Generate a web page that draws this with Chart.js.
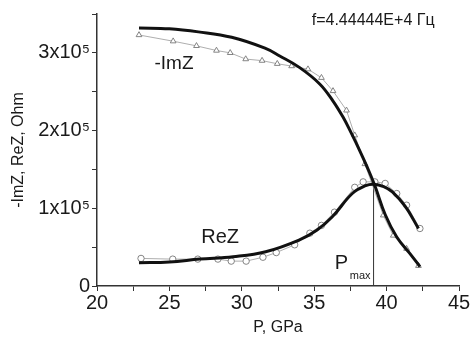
<!DOCTYPE html>
<html>
<head>
<meta charset="utf-8">
<script src="https://cdn.jsdelivr.net/npm/chart.js@4"></script>
<style>
html,body{margin:0;padding:0;background:#fff;}
#wrap{width:474px;height:338px;position:relative;}
</style>
</head>
<body>
<div id="wrap"><canvas id="c" width="474" height="338"></canvas></div>
<script>
// -ImZ fit curve
const imzFitP = [22.9, 25.0, 27.0, 29.3, 31.6, 32.62, 34.0, 35.38, 36.3, 37.0, 37.58, 38.15, 38.66, 39.19, 39.9, 40.7, 41.6, 42.3];
const imzFit  = [332000, 331000, 327000, 320000, 306000, 296000, 281000, 260000, 238000, 217000, 196000, 174000, 153000, 129000, 92000, 63000, 42000, 25000];
// -ImZ measured points (triangles)
const imzDataP = [22.9, 25.26, 26.87, 28.25, 29.2, 30.27, 31.4, 32.45, 33.44, 34.57, 35.5, 36.3, 37.23, 37.8, 38.5, 39.77, 40.46, 41.38, 42.2];
const imzData  = [323000, 315000, 309000, 303000, 300000, 292000, 290000, 286000, 283000, 279000, 268000, 251000, 226000, 194000, 157000, 91000, 65000, 48000, 26000];
// ReZ fit curve
const reFitP = [22.9, 25.0, 27.1, 29.4, 31.65, 33.95, 35.2, 36.25, 37.63, 38.55, 39.1, 39.8, 40.4, 41.3, 42.2];
const reFit  = [30000, 31000, 34600, 37600, 44000, 59000, 72000, 89000, 119000, 129000, 131000, 128000, 121000, 102000, 74000];
// ReZ measured points (circles)
const reDataP = [23.04, 25.23, 26.96, 28.35, 29.27, 30.3, 31.46, 32.38, 33.65, 34.7, 35.5, 36.4, 37.8, 38.38, 39.19, 39.9, 40.7, 41.38, 42.3];
const reData  = [35500, 34600, 34600, 34600, 32000, 32000, 37000, 43000, 53000, 68000, 78000, 95000, 127000, 134000, 134000, 132000, 119000, 104000, 74000];
// P_max marker
const pMax = [39.1];
const pMaxVal = [131000];
// axis ticks
const xTickLabels = [20, 25, 30, 35, 40, 45];
const yTickLabels = ['0', '1x10\u2075', '2x10\u2075', '3x10\u2075'];
// text labels
const labelTexts = ['-ImZ', 'ReZ', 'f=4.44444E+4 \u0413\u0446', 'P', 'max'];
const labelX = [23.97, 27.2, 34.83, 36.42, 37.46];
const labelY = [286000, 62000, 341000, 29000, 13000];

const pts = (xs, ys) => xs.map((x, i) => ({x, y: ys[i]}));

const labelFonts = ['19px "Liberation Sans"', '20px "Liberation Sans"', '16px "Liberation Sans"', '20px "Liberation Sans"', '11px "Liberation Sans"'];
const textPlugin = {
  id: 'texts',
  afterDatasetsDraw(chart) {
    const {ctx, scales: {x, y}} = chart;
    ctx.save();
    ctx.fillStyle = '#1a1a1a';
    ctx.textAlign = 'left';
    ctx.textBaseline = 'middle';
    labelTexts.forEach((t, i) => {
      ctx.font = labelFonts[i];
      ctx.fillText(t, x.getPixelForValue(labelX[i]), y.getPixelForValue(labelY[i]));
    });
    ctx.restore();
  }
};

new Chart(document.getElementById('c'), {
  type: 'scatter',
  data: {
    datasets: [
      {data: pts(imzFitP, imzFit), showLine: true, borderColor: '#111', borderWidth: 3, pointRadius: 0, tension: 0.4, order: 0},
      {data: pts(reFitP, reFit), showLine: true, borderColor: '#111', borderWidth: 3, pointRadius: 0, tension: 0.4, order: 0},
      {data: pts(imzDataP, imzData), showLine: true, borderColor: '#999', borderWidth: 0.8, pointStyle: 'triangle', pointRadius: 3.3, pointBorderColor: '#777', pointBackgroundColor: '#fff', pointBorderWidth: 0.9, order: 1},
      {data: pts(reDataP, reData), showLine: true, borderColor: '#999', borderWidth: 0.8, pointStyle: 'circle', pointRadius: 3.2, pointBorderColor: '#777', pointBackgroundColor: '#fff', pointBorderWidth: 0.9, order: 1},
      {data: [{x: pMax[0], y: 0}, {x: pMax[0], y: pMaxVal[0]}], showLine: true, borderColor: '#333', borderWidth: 1, pointRadius: 0, order: 2}
    ]
  },
  options: {
    responsive: false,
    animation: false,
    events: [],
    layout: {padding: {top: 12, right: 15, left: 0, bottom: 0}},
    plugins: {legend: {display: false}, tooltip: {enabled: false}},
    scales: {
      x: {
        type: 'linear', min: 20, max: 45,
        border: {display: true, color: '#333', width: 1.5},
        grid: {drawOnChartArea: false, drawTicks: true, tickLength: 5, color: '#333', tickWidth: 1},
        ticks: {stepSize: 2.5, color: '#1a1a1a', padding: 0, maxRotation: 0, autoSkip: false,
          font: {family: 'Liberation Sans', size: 20},
          callback: v => xTickLabels.includes(v) ? String(v) : ''},
        title: {display: true, text: 'P, GPa', color: '#1a1a1a', font: {family: 'Liberation Sans', size: 16}, padding: {top: 0, bottom: 1}},
        afterFit: s => { s.height = 52; }
      },
      y: {
        type: 'linear', min: 0, max: 350000,
        border: {display: true, color: '#333', width: 1.5},
        grid: {drawOnChartArea: false, drawTicks: true, tickLength: 5, color: '#333', tickWidth: 1},
        ticks: {stepSize: 50000, color: '#1a1a1a', padding: 2, autoSkip: false,
          font: {family: 'Liberation Sans', size: 20},
          callback: v => (v % 100000 === 0) ? yTickLabels[v / 100000] : ''},
        title: {display: true, text: '-ImZ, ReZ, Ohm', color: '#1a1a1a', font: {family: 'Liberation Sans', size: 16}, padding: {top: 9, bottom: 0}},
        afterFit: s => { s.width = 97; }
      }
    }
  },
  plugins: [textPlugin]
});
</script>
</body>
</html>
